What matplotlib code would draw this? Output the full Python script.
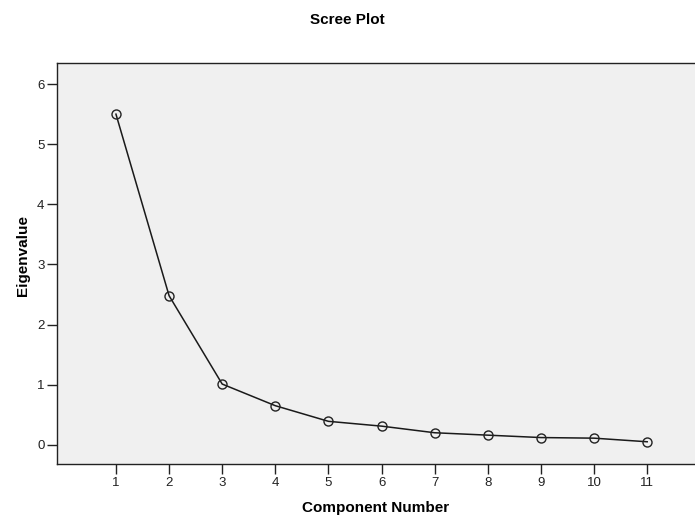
import matplotlib
matplotlib.use("Agg")
import matplotlib.pyplot as plt

components = [1, 2, 3, 4, 5, 6, 7, 8, 9, 10, 11]
eigenvalues = [5.50, 2.48, 1.01, 0.65, 0.39, 0.31, 0.20, 0.16, 0.12, 0.11, 0.05]
y_ticks = [0, 1, 2, 3, 4, 5, 6]

plt.rcParams['font.family'] = ['Liberation Sans', 'DejaVu Sans']

fig = plt.figure(figsize=(6.95, 5.17), dpi=100)
ax = fig.add_axes([0.082, 0.1025, 0.918, 0.7755])
ax.set_facecolor('#f0f0f0')

ax.plot(components, eigenvalues, color='#1a1a1a', linewidth=1.1,
        marker='o', markersize=6.5, markerfacecolor='none',
        markeredgecolor='#222222', markeredgewidth=1.0)

ax.set_xlim(-0.11, 11.9)
ax.set_ylim(-0.32, 6.35)
ax.set_xticks(components)
ax.set_yticks(y_ticks)
ax.tick_params(axis='both', direction='out', length=7, width=1,
               labelsize=9.5, colors='#222222', pad=2)
for s in ['left', 'bottom', 'top']:
    ax.spines[s].set_color('#222222')
    ax.spines[s].set_linewidth(1)
ax.spines['right'].set_visible(False)

ax.set_xlabel('Component Number', fontsize=11, fontweight='bold', labelpad=9)
ax.set_ylabel('Eigenvalue', fontsize=11, fontweight='bold')
ax.yaxis.set_label_coords(-0.042, 0.52)
fig.text(0.5, 0.962, 'Scree Plot', ha='center', va='center',
         fontsize=11, fontweight='bold')

fig.savefig('out.png', dpi=100)
